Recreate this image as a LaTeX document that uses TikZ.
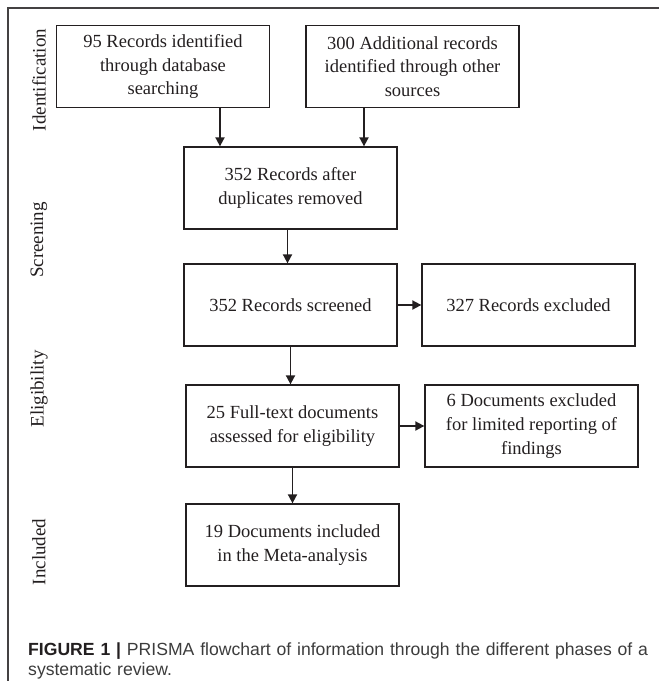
\documentclass[tikz,border=0pt]{standalone}
\usepackage{fontspec}
\setmainfont{Liberation Serif}
\newfontfamily\capfont{Liberation Sans}
\usetikzlibrary{arrows.meta}
\definecolor{ink}{HTML}{231F20}
\definecolor{capgray}{HTML}{3C3C3C}
\tikzstyle{record} = [
  draw=ink,
  text=ink,
  rectangle,
  line width=1.3pt,
  minimum width=213pt,
  minimum height=82pt,
  align=center,
  font=\fontsize{18.5}{23.6}\selectfont,
]
\tikzstyle{phase} = [
  rotate=90,
  text=ink,
  font=\fontsize{19}{23}\selectfont,
]
\tikzstyle{flow} = [
  draw=ink,
  line width=1.8pt,
  -{Triangle[length=9pt,width=9pt]},
]

\begin{document}
\begin{tikzpicture}[
    x=1pt,
    y=-1pt,
  ]
  \useasboundingbox (0,0) rectangle (659,681);
  \draw[ink!85, line width=1.6pt] (8,681) -- (8,8) -- (659,8);
  % phases
  \node[phase] (ident) at (39,80) {Identification};
  \node[phase] (screen) at (39,240) {Screening};
  \node[phase] (elig) at (39,389) {Eligibility};
  \node[phase] (incl) at (39,552) {Included};
  % boxes
  \node[record]
  (dbase) at (163,66.5)
  {95 Records identified\\through database\\searching};
  \node[record]
  (other) at (412.5,66.5)
  {300 Additional records\\identified through other\\sources};
  \node[record]
  (dedup) at (290.5,188)
  {352 Records after\\duplicates removed};
  \node[record]
  (screened) at (290.5,305)
  {352 Records screened};
  \node[record]
  (recexcl) at (528.5,305)
  {327 Records excluded};
  \node[record]
  (fulltext) at (292.5,426)
  {25 Full-text documents\\assessed for eligibility};
  \node[record]
  (docexcl) at (531.5,426)
  {6 Documents excluded\\for limited reporting of\\findings};
  \node[record]
  (included) at (292.5,545)
  {19 Documents included\\in the Meta-analysis};
  % arrows
  \path[flow] ([xshift=57pt]dbase.south)
    -- ([xshift=57pt]dbase.south |- dedup.north);
  \path[flow] ([xshift=-48.5pt]other.south)
    -- ([xshift=-48.5pt]other.south |- dedup.north);
  \path[flow] ([xshift=-3pt]dedup.south)
    -- ([xshift=-3pt]dedup.south |- screened.north);
  \path[flow] (screened.east) -- (recexcl.west);
  \path[flow] (screened.south) -- (screened.south |- fulltext.north);
  \path[flow] (fulltext.east) -- (docexcl.west);
  \path[flow] (fulltext.south) -- (included.north);
  % caption
  \node[
    anchor=base west,
    text width=640pt,
    align=left,
    inner sep=0pt,
    text=capgray,
    font=\capfont\fontsize{17.6}{20}\selectfont,
  ](caption) at (28,655)
  {\textbf{\color{ink}FIGURE 1 |} PRISMA flowchart of information through the different phases of a\\systematic review.};
\end{tikzpicture}
\end{document}
